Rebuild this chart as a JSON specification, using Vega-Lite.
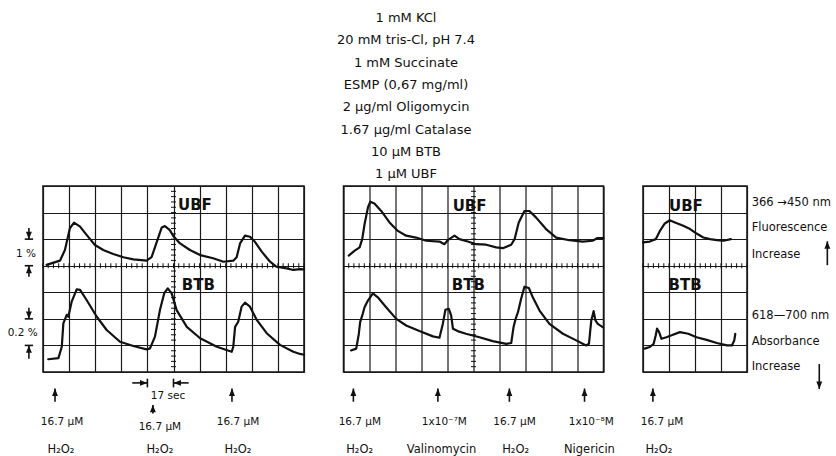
{
  "$schema": "https://vega.github.io/schema/vega-lite/v6.json",
  "background": "white",
  "padding": {"left": 6, "top": 12, "right": 0, "bottom": 0},
  "bounds": "flush",
  "spacing": 39.5,
  "title": {
    "text": ["1 mM  KCl", "20 mM tris-Cl, pH 7.4", "1 mM Succinate", "ESMP  (0,67 mg/ml)", "2 µg/ml Oligomycin", "1.67 µg/ml Catalase", "10 µM  BTB", "1 µM  UBF"],
    "anchor": "middle",
    "frame": "group",
    "dx": 363,
    "font": "DejaVu Sans",
    "fontSize": 13,
    "fontWeight": "normal",
    "lineHeight": 22.3,
    "offset": 4,
    "color": "#111"
  },
  "datasets": {
    "traces": [
      {"p":1,"s":"UBF","t":0.14,"v":4.03},{"p":1,"s":"UBF","t":0.65,"v":4.19},{"p":1,"s":"UBF","t":0.84,"v":4.59},{"p":1,"s":"UBF","t":1.03,"v":5.41},{"p":1,"s":"UBF","t":1.19,"v":5.62},{"p":1,"s":"UBF","t":1.42,"v":5.47},{"p":1,"s":"UBF","t":1.67,"v":5.16},{"p":1,"s":"UBF","t":1.99,"v":4.78},{"p":1,"s":"UBF","t":2.31,"v":4.59},{"p":1,"s":"UBF","t":2.69,"v":4.44},{"p":1,"s":"UBF","t":3.08,"v":4.32},{"p":1,"s":"UBF","t":3.46,"v":4.24},{"p":1,"s":"UBF","t":3.97,"v":4.19},{"p":1,"s":"UBF","t":4.16,"v":4.32},{"p":1,"s":"UBF","t":4.36,"v":4.9},{"p":1,"s":"UBF","t":4.55,"v":5.44},{"p":1,"s":"UBF","t":4.67,"v":5.49},{"p":1,"s":"UBF","t":4.86,"v":5.34},{"p":1,"s":"UBF","t":4.99,"v":5.12},{"p":1,"s":"UBF","t":5.25,"v":4.84},{"p":1,"s":"UBF","t":5.63,"v":4.59},{"p":1,"s":"UBF","t":6.02,"v":4.4},{"p":1,"s":"UBF","t":6.52,"v":4.28},{"p":1,"s":"UBF","t":6.91,"v":4.15},{"p":1,"s":"UBF","t":7.29,"v":4.19},{"p":1,"s":"UBF","t":7.42,"v":4.32},{"p":1,"s":"UBF","t":7.55,"v":4.84},{"p":1,"s":"UBF","t":7.74,"v":5.13},{"p":1,"s":"UBF","t":7.93,"v":5.09},{"p":1,"s":"UBF","t":8.12,"v":4.9},{"p":1,"s":"UBF","t":8.38,"v":4.53},{"p":1,"s":"UBF","t":8.7,"v":4.15},{"p":1,"s":"UBF","t":8.95,"v":3.96},{"p":1,"s":"UBF","t":9.34,"v":3.9},{"p":1,"s":"UBF","t":9.59,"v":3.84},{"p":1,"s":"UBF","t":9.85,"v":3.87},{"p":1,"s":"UBF","t":10,"v":3.86},
      {"p":1,"s":"BTB","t":0.2,"v":0.48},{"p":1,"s":"BTB","t":0.59,"v":0.52},{"p":1,"s":"BTB","t":0.72,"v":0.95},{"p":1,"s":"BTB","t":0.78,"v":1.83},{"p":1,"s":"BTB","t":0.91,"v":2.15},{"p":1,"s":"BTB","t":0.97,"v":2.08},{"p":1,"s":"BTB","t":1.1,"v":2.65},{"p":1,"s":"BTB","t":1.29,"v":3.11},{"p":1,"s":"BTB","t":1.42,"v":3.09},{"p":1,"s":"BTB","t":1.67,"v":2.71},{"p":1,"s":"BTB","t":2.06,"v":2.08},{"p":1,"s":"BTB","t":2.44,"v":1.58},{"p":1,"s":"BTB","t":2.95,"v":1.14},{"p":1,"s":"BTB","t":3.46,"v":0.98},{"p":1,"s":"BTB","t":3.97,"v":0.85},{"p":1,"s":"BTB","t":4.1,"v":0.89},{"p":1,"s":"BTB","t":4.29,"v":1.33},{"p":1,"s":"BTB","t":4.48,"v":2.33},{"p":1,"s":"BTB","t":4.65,"v":2.98},{"p":1,"s":"BTB","t":4.78,"v":3.15},{"p":1,"s":"BTB","t":4.93,"v":2.96},{"p":1,"s":"BTB","t":5.12,"v":2.33},{"p":1,"s":"BTB","t":5.51,"v":1.7},{"p":1,"s":"BTB","t":6.02,"v":1.27},{"p":1,"s":"BTB","t":6.66,"v":0.95},{"p":1,"s":"BTB","t":7.23,"v":0.76},{"p":1,"s":"BTB","t":7.29,"v":0.95},{"p":1,"s":"BTB","t":7.36,"v":1.7},{"p":1,"s":"BTB","t":7.48,"v":1.89},{"p":1,"s":"BTB","t":7.61,"v":2.46},{"p":1,"s":"BTB","t":7.74,"v":2.61},{"p":1,"s":"BTB","t":7.93,"v":2.46},{"p":1,"s":"BTB","t":8.19,"v":1.96},{"p":1,"s":"BTB","t":8.57,"v":1.46},{"p":1,"s":"BTB","t":9.08,"v":1.02},{"p":1,"s":"BTB","t":9.59,"v":0.76},{"p":1,"s":"BTB","t":9.85,"v":0.68},{"p":1,"s":"BTB","t":10,"v":0.65},
      {"p":2,"s":"UBF","t":0.2,"v":4.38},{"p":2,"s":"UBF","t":0.42,"v":4.56},{"p":2,"s":"UBF","t":0.62,"v":4.69},{"p":2,"s":"UBF","t":0.72,"v":5.0},{"p":2,"s":"UBF","t":0.81,"v":5.56},{"p":2,"s":"UBF","t":0.94,"v":6.19},{"p":2,"s":"UBF","t":1.03,"v":6.41},{"p":2,"s":"UBF","t":1.19,"v":6.34},{"p":2,"s":"UBF","t":1.45,"v":6.06},{"p":2,"s":"UBF","t":1.77,"v":5.63},{"p":2,"s":"UBF","t":2.09,"v":5.31},{"p":2,"s":"UBF","t":2.41,"v":5.13},{"p":2,"s":"UBF","t":2.79,"v":5.06},{"p":2,"s":"UBF","t":3.18,"v":4.94},{"p":2,"s":"UBF","t":3.69,"v":4.91},{"p":2,"s":"UBF","t":3.88,"v":4.81},{"p":2,"s":"UBF","t":4.01,"v":4.96},{"p":2,"s":"UBF","t":4.27,"v":5.13},{"p":2,"s":"UBF","t":4.46,"v":5.0},{"p":2,"s":"UBF","t":4.78,"v":4.91},{"p":2,"s":"UBF","t":5.1,"v":4.81},{"p":2,"s":"UBF","t":5.49,"v":4.79},{"p":2,"s":"UBF","t":5.87,"v":4.69},{"p":2,"s":"UBF","t":6.13,"v":4.66},{"p":2,"s":"UBF","t":6.45,"v":4.79},{"p":2,"s":"UBF","t":6.58,"v":5.0},{"p":2,"s":"UBF","t":6.74,"v":5.63},{"p":2,"s":"UBF","t":6.96,"v":6.06},{"p":2,"s":"UBF","t":7.15,"v":6.06},{"p":2,"s":"UBF","t":7.41,"v":5.81},{"p":2,"s":"UBF","t":7.79,"v":5.38},{"p":2,"s":"UBF","t":8.18,"v":5.06},{"p":2,"s":"UBF","t":8.69,"v":4.96},{"p":2,"s":"UBF","t":9.2,"v":4.91},{"p":2,"s":"UBF","t":9.58,"v":4.94},{"p":2,"s":"UBF","t":9.77,"v":5.04},{"p":2,"s":"UBF","t":10,"v":5.04},
      {"p":2,"s":"BTB","t":0.29,"v":0.81},{"p":2,"s":"BTB","t":0.49,"v":0.88},{"p":2,"s":"BTB","t":0.59,"v":1.44},{"p":2,"s":"BTB","t":0.64,"v":1.88},{"p":2,"s":"BTB","t":0.74,"v":2.19},{"p":2,"s":"BTB","t":0.81,"v":2.44},{"p":2,"s":"BTB","t":0.94,"v":2.69},{"p":2,"s":"BTB","t":1.13,"v":2.96},{"p":2,"s":"BTB","t":1.32,"v":2.81},{"p":2,"s":"BTB","t":1.64,"v":2.44},{"p":2,"s":"BTB","t":2.03,"v":2.0},{"p":2,"s":"BTB","t":2.41,"v":1.75},{"p":2,"s":"BTB","t":2.92,"v":1.54},{"p":2,"s":"BTB","t":3.44,"v":1.34},{"p":2,"s":"BTB","t":3.69,"v":1.29},{"p":2,"s":"BTB","t":3.82,"v":1.81},{"p":2,"s":"BTB","t":3.92,"v":2.34},{"p":2,"s":"BTB","t":4.05,"v":2.38},{"p":2,"s":"BTB","t":4.14,"v":2.13},{"p":2,"s":"BTB","t":4.21,"v":1.63},{"p":2,"s":"BTB","t":4.39,"v":1.54},{"p":2,"s":"BTB","t":4.71,"v":1.44},{"p":2,"s":"BTB","t":5.23,"v":1.31},{"p":2,"s":"BTB","t":5.74,"v":1.16},{"p":2,"s":"BTB","t":6.26,"v":1.06},{"p":2,"s":"BTB","t":6.45,"v":1.09},{"p":2,"s":"BTB","t":6.54,"v":1.69},{"p":2,"s":"BTB","t":6.62,"v":2.0},{"p":2,"s":"BTB","t":6.71,"v":2.25},{"p":2,"s":"BTB","t":6.83,"v":2.75},{"p":2,"s":"BTB","t":6.96,"v":3.21},{"p":2,"s":"BTB","t":7.13,"v":3.16},{"p":2,"s":"BTB","t":7.28,"v":2.81},{"p":2,"s":"BTB","t":7.54,"v":2.31},{"p":2,"s":"BTB","t":7.92,"v":1.81},{"p":2,"s":"BTB","t":8.44,"v":1.44},{"p":2,"s":"BTB","t":8.95,"v":1.19},{"p":2,"s":"BTB","t":9.33,"v":1.0},{"p":2,"s":"BTB","t":9.44,"v":1.06},{"p":2,"s":"BTB","t":9.53,"v":1.94},{"p":2,"s":"BTB","t":9.62,"v":2.29},{"p":2,"s":"BTB","t":9.69,"v":1.94},{"p":2,"s":"BTB","t":9.78,"v":1.81},{"p":2,"s":"BTB","t":9.97,"v":1.69},
      {"p":3,"s":"UBF","t":0.0,"v":4.88},{"p":3,"s":"UBF","t":0.26,"v":4.91},{"p":3,"s":"UBF","t":0.49,"v":5.0},{"p":3,"s":"UBF","t":0.65,"v":5.31},{"p":3,"s":"UBF","t":0.84,"v":5.59},{"p":3,"s":"UBF","t":1.03,"v":5.71},{"p":3,"s":"UBF","t":1.23,"v":5.63},{"p":3,"s":"UBF","t":1.55,"v":5.5},{"p":3,"s":"UBF","t":1.81,"v":5.38},{"p":3,"s":"UBF","t":2.06,"v":5.21},{"p":3,"s":"UBF","t":2.32,"v":5.06},{"p":3,"s":"UBF","t":2.58,"v":5.0},{"p":3,"s":"UBF","t":2.84,"v":4.96},{"p":3,"s":"UBF","t":3.1,"v":4.94},{"p":3,"s":"UBF","t":3.38,"v":5.0},
      {"p":3,"s":"BTB","t":0.06,"v":0.88},{"p":3,"s":"BTB","t":0.26,"v":0.94},{"p":3,"s":"BTB","t":0.41,"v":1.06},{"p":3,"s":"BTB","t":0.49,"v":1.38},{"p":3,"s":"BTB","t":0.54,"v":1.63},{"p":3,"s":"BTB","t":0.62,"v":1.5},{"p":3,"s":"BTB","t":0.71,"v":1.25},{"p":3,"s":"BTB","t":0.9,"v":1.31},{"p":3,"s":"BTB","t":1.1,"v":1.38},{"p":3,"s":"BTB","t":1.42,"v":1.5},{"p":3,"s":"BTB","t":1.74,"v":1.44},{"p":3,"s":"BTB","t":2.06,"v":1.31},{"p":3,"s":"BTB","t":2.45,"v":1.21},{"p":3,"s":"BTB","t":2.84,"v":1.09},{"p":3,"s":"BTB","t":3.23,"v":1.0},{"p":3,"s":"BTB","t":3.42,"v":1.0},{"p":3,"s":"BTB","t":3.51,"v":1.19},{"p":3,"s":"BTB","t":3.55,"v":1.44}
    ],
    "hticks": [
      {"t":0,"v":4},{"t":0.2,"v":4},{"t":0.4,"v":4},{"t":0.6,"v":4},{"t":0.8,"v":4},{"t":1,"v":4},{"t":1.2,"v":4},{"t":1.4,"v":4},{"t":1.6,"v":4},{"t":1.8,"v":4},{"t":2,"v":4},{"t":2.2,"v":4},{"t":2.4,"v":4},{"t":2.6,"v":4},{"t":2.8,"v":4},{"t":3,"v":4},{"t":3.2,"v":4},{"t":3.4,"v":4},{"t":3.6,"v":4},{"t":3.8,"v":4},{"t":4,"v":4},{"t":4.2,"v":4},{"t":4.4,"v":4},{"t":4.6,"v":4},{"t":4.8,"v":4},{"t":5,"v":4},{"t":5.2,"v":4},{"t":5.4,"v":4},{"t":5.6,"v":4},{"t":5.8,"v":4},{"t":6,"v":4},{"t":6.2,"v":4},{"t":6.4,"v":4},{"t":6.6,"v":4},{"t":6.8,"v":4},{"t":7,"v":4},{"t":7.2,"v":4},{"t":7.4,"v":4},{"t":7.6,"v":4},{"t":7.8,"v":4},{"t":8,"v":4},{"t":8.2,"v":4},{"t":8.4,"v":4},{"t":8.6,"v":4},{"t":8.8,"v":4},{"t":9,"v":4},{"t":9.2,"v":4},{"t":9.4,"v":4},{"t":9.6,"v":4},{"t":9.8,"v":4},{"t":10,"v":4}
    ],
    "vticks": [
      {"t":5,"v":0.2},{"t":5,"v":0.4},{"t":5,"v":0.6},{"t":5,"v":0.8},{"t":5,"v":1},{"t":5,"v":1.2},{"t":5,"v":1.4},{"t":5,"v":1.6},{"t":5,"v":1.8},{"t":5,"v":2},{"t":5,"v":2.2},{"t":5,"v":2.4},{"t":5,"v":2.6},{"t":5,"v":2.8},{"t":5,"v":3},{"t":5,"v":3.2},{"t":5,"v":3.4},{"t":5,"v":3.6},{"t":5,"v":3.8},{"t":5,"v":4.2},{"t":5,"v":4.4},{"t":5,"v":4.6},{"t":5,"v":4.8},{"t":5,"v":5},{"t":5,"v":5.2},{"t":5,"v":5.4},{"t":5,"v":5.6},{"t":5,"v":5.8},{"t":5,"v":6},{"t":5,"v":6.2},{"t":5,"v":6.4},{"t":5,"v":6.6},{"t":5,"v":6.8}
    ],
    "tags": [
      {"p":1,"t":5.82,"v":6.29,"text":"UBF"},{"p":1,"t":5.95,"v":3.27,"text":"BTB"},
      {"p":2,"t":4.85,"v":6.25,"text":"UBF"},{"p":2,"t":4.8,"v":3.26,"text":"BTB"},
      {"p":3,"t":1.65,"v":6.25,"text":"UBF"},{"p":3,"t":1.62,"v":3.26,"text":"BTB"}
    ],
    "segs": [
      {"p":1,"t":-0.7,"t2":-0.38,"v":5,"v2":5},{"p":1,"t":-0.7,"t2":-0.38,"v":4,"v2":4},{"p":1,"t":-0.7,"t2":-0.38,"v":2,"v2":2},{"p":1,"t":-0.7,"t2":-0.38,"v":1,"v2":1},
      {"p":1,"t":-0.54,"t2":-0.54,"v":5,"v2":5.42},{"p":1,"t":-0.54,"t2":-0.54,"v":4,"v2":3.58},{"p":1,"t":-0.54,"t2":-0.54,"v":2,"v2":2.42},{"p":1,"t":-0.54,"t2":-0.54,"v":1,"v2":0.5},
      {"p":1,"t":4,"t2":4,"v":-0.25,"v2":-0.58},{"p":1,"t":5,"t2":5,"v":-0.25,"v2":-0.58},{"p":1,"t":3.42,"t2":4,"v":-0.41,"v2":-0.41},{"p":1,"t":5,"t2":5.58,"v":-0.41,"v2":-0.41},
      {"p":1,"t":0.46,"t2":0.46,"v":-0.62,"v2":-1.12},{"p":1,"t":4.21,"t2":4.21,"v":-1.24,"v2":-1.56},{"p":1,"t":7.24,"t2":7.24,"v":-0.62,"v2":-1.12},
      {"p":2,"t":0.38,"t2":0.38,"v":-0.62,"v2":-1.12},{"p":2,"t":3.63,"t2":3.63,"v":-0.62,"v2":-1.12},{"p":2,"t":6.38,"t2":6.38,"v":-0.62,"v2":-1.12},{"p":2,"t":9.27,"t2":9.27,"v":-0.62,"v2":-1.12},
      {"p":3,"t":0.38,"t2":0.38,"v":-0.62,"v2":-1.12},{"p":3,"t":7.09,"t2":7.09,"v":4.92,"v2":4.02},{"p":3,"t":6.78,"t2":6.78,"v":-0.64,"v2":0.3}
    ],
    "heads": [
      {"p":1,"t":-0.54,"v":5,"dir":"down"},{"p":1,"t":-0.54,"v":4,"dir":"up"},{"p":1,"t":-0.54,"v":2,"dir":"down"},{"p":1,"t":-0.54,"v":1,"dir":"up"},
      {"p":1,"t":4,"v":-0.41,"dir":"right"},{"p":1,"t":5,"v":-0.41,"dir":"left"},
      {"p":1,"t":0.46,"v":-0.62,"dir":"up"},{"p":1,"t":4.21,"v":-1.24,"dir":"up"},{"p":1,"t":7.24,"v":-0.62,"dir":"up"},
      {"p":2,"t":0.38,"v":-0.62,"dir":"up"},{"p":2,"t":3.63,"v":-0.62,"dir":"up"},{"p":2,"t":6.38,"v":-0.62,"dir":"up"},{"p":2,"t":9.27,"v":-0.62,"dir":"up"},
      {"p":3,"t":0.38,"v":-0.62,"dir":"up"},{"p":3,"t":7.09,"v":4.92,"dir":"up"},{"p":3,"t":6.78,"v":-0.64,"dir":"down"}
    ],
    "doses": [
      {"p":1,"t":0.73,"v":-1.88,"text":"16.7 µM"},{"p":1,"t":4.48,"v":-2.07,"text":"16.7 µM"},{"p":1,"t":7.47,"v":-1.88,"text":"16.7 µM"},{"p":1,"t":4.79,"v":-0.9,"text":"17 sec"},
      {"p":2,"t":0.63,"v":-1.88,"text":"16.7 µM"},{"p":2,"t":3.88,"v":-1.88,"text":"1x10⁻⁷M"},{"p":2,"t":6.58,"v":-1.88,"text":"16.7 µM"},{"p":2,"t":9.53,"v":-1.88,"text":"1x10⁻⁸M"},
      {"p":3,"t":0.73,"v":-1.88,"text":"16.7 µM"}
    ],
    "agents": [
      {"p":1,"t":0.69,"v":-2.94,"text":"H₂O₂"},{"p":1,"t":4.48,"v":-2.94,"text":"H₂O₂"},{"p":1,"t":7.47,"v":-2.94,"text":"H₂O₂"},
      {"p":2,"t":0.62,"v":-2.94,"text":"H₂O₂"},{"p":2,"t":3.77,"v":-2.94,"text":"Valinomycin"},{"p":2,"t":6.62,"v":-2.94,"text":"H₂O₂"},{"p":2,"t":9.46,"v":-2.94,"text":"Nigericin"},
      {"p":3,"t":0.61,"v":-2.94,"text":"H₂O₂"}
    ],
    "pct": [
      {"t":-0.65,"v":4.45,"text":"1 %"},{"t":-0.78,"v":1.47,"text":"0.2 %"}
    ],
    "side": [
      {"t":4.18,"v":6.36,"text":"366 →450 nm"},{"t":4.18,"v":5.42,"text":"Fluorescence"},{"t":4.18,"v":4.39,"text":"Increase"},
      {"t":4.18,"v":2.12,"text":"618—700 nm"},{"t":4.18,"v":1.14,"text":"Absorbance"},{"t":4.18,"v":0.19,"text":"Increase"}
    ]
  },
  "hconcat": [
    {
      "width": 261,
      "height": 186,
      "encoding": {
        "x": {"field": "t", "type": "quantitative", "scale": {"domain": [0, 10], "nice": false, "zero": false}, "axis": {"values": [0,1,2,3,4,5,6,7,8,9,10], "grid": true, "domain": false, "ticks": false, "labels": false, "title": null}},
        "y": {"field": "v", "type": "quantitative", "scale": {"domain": [0, 7], "nice": false, "zero": false}, "axis": {"values": [0,1,2,3,4,5,6,7], "grid": true, "domain": false, "ticks": false, "labels": false, "title": null}}
      },
      "layer": [
        {"data": {"name": "hticks"}, "mark": {"type": "tick", "orient": "vertical", "size": 5, "thickness": 1, "color": "#111", "opacity": 1}},
        {"data": {"name": "vticks"}, "mark": {"type": "tick", "orient": "horizontal", "size": 5, "thickness": 1, "color": "#111", "opacity": 1}},
        {"data": {"name": "traces"}, "transform": [{"filter": "datum.p == 1"}], "mark": {"type": "line", "color": "#111", "strokeWidth": 2.2, "strokeJoin": "round", "strokeCap": "round"}, "encoding": {"detail": {"field": "s", "type": "nominal"}}},
        {"data": {"name": "tags"}, "transform": [{"filter": "datum.p == 1"}], "mark": {"type": "text", "font": "DejaVu Sans", "fontSize": 15, "fontWeight": "bold", "align": "center", "baseline": "middle", "color": "#111"}, "encoding": {"text": {"field": "text"}}},
        {"data": {"name": "segs"}, "transform": [{"filter": "datum.p == 1"}], "mark": {"type": "rule", "color": "#111", "strokeWidth": 1.6}, "encoding": {"x2": {"field": "t2"}, "y2": {"field": "v2"}}},
        {"data": {"name": "heads"}, "transform": [{"filter": "datum.p == 1"}], "mark": {"type": "point", "filled": true, "size": 220, "color": "#111", "opacity": 1}, "encoding": {"shape": {"field": "dir", "type": "nominal", "scale": {"domain": ["up", "down", "left", "right"], "range": ["M0,0L-0.4,1L0.4,1Z", "M0,0L-0.4,-1L0.4,-1Z", "M0,0L1,-0.4L1,0.4Z", "M0,0L-1,-0.4L-1,0.4Z"]}, "legend": null}}},
        {"data": {"name": "doses"}, "transform": [{"filter": "datum.p == 1"}], "mark": {"type": "text", "font": "DejaVu Sans", "fontSize": 10.5, "align": "center", "baseline": "middle", "color": "#111"}, "encoding": {"text": {"field": "text"}}},
        {"data": {"name": "agents"}, "transform": [{"filter": "datum.p == 1"}], "mark": {"type": "text", "font": "DejaVu Sans", "fontSize": 11.5, "align": "center", "baseline": "middle", "color": "#111"}, "encoding": {"text": {"field": "text"}}},
        {"data": {"name": "pct"}, "mark": {"type": "text", "font": "DejaVu Sans", "fontSize": 10.5, "align": "center", "baseline": "middle", "color": "#111"}, "encoding": {"text": {"field": "text"}}}
      ]
    },
    {
      "width": 260,
      "height": 186,
      "encoding": {
        "x": {"field": "t", "type": "quantitative", "scale": {"domain": [0, 10], "nice": false, "zero": false}, "axis": {"values": [0,1,2,3,4,5,6,7,8,9,10], "grid": true, "domain": false, "ticks": false, "labels": false, "title": null}},
        "y": {"field": "v", "type": "quantitative", "scale": {"domain": [0, 7], "nice": false, "zero": false}, "axis": {"values": [0,1,2,3,4,5,6,7], "grid": true, "domain": false, "ticks": false, "labels": false, "title": null}}
      },
      "layer": [
        {"data": {"name": "hticks"}, "mark": {"type": "tick", "orient": "vertical", "size": 5, "thickness": 1, "color": "#111", "opacity": 1}},
        {"data": {"name": "vticks"}, "mark": {"type": "tick", "orient": "horizontal", "size": 5, "thickness": 1, "color": "#111", "opacity": 1}},
        {"data": {"name": "traces"}, "transform": [{"filter": "datum.p == 2"}], "mark": {"type": "line", "color": "#111", "strokeWidth": 2.2, "strokeJoin": "round", "strokeCap": "round"}, "encoding": {"detail": {"field": "s", "type": "nominal"}}},
        {"data": {"name": "tags"}, "transform": [{"filter": "datum.p == 2"}], "mark": {"type": "text", "font": "DejaVu Sans", "fontSize": 15, "fontWeight": "bold", "align": "center", "baseline": "middle", "color": "#111"}, "encoding": {"text": {"field": "text"}}},
        {"data": {"name": "segs"}, "transform": [{"filter": "datum.p == 2"}], "mark": {"type": "rule", "color": "#111", "strokeWidth": 1.6}, "encoding": {"x2": {"field": "t2"}, "y2": {"field": "v2"}}},
        {"data": {"name": "heads"}, "transform": [{"filter": "datum.p == 2"}], "mark": {"type": "point", "filled": true, "size": 220, "color": "#111", "opacity": 1}, "encoding": {"shape": {"field": "dir", "type": "nominal", "scale": {"domain": ["up", "down", "left", "right"], "range": ["M0,0L-0.4,1L0.4,1Z", "M0,0L-0.4,-1L0.4,-1Z", "M0,0L1,-0.4L1,0.4Z", "M0,0L-1,-0.4L-1,0.4Z"]}, "legend": null}}},
        {"data": {"name": "doses"}, "transform": [{"filter": "datum.p == 2"}], "mark": {"type": "text", "font": "DejaVu Sans", "fontSize": 10.5, "align": "center", "baseline": "middle", "color": "#111"}, "encoding": {"text": {"field": "text"}}},
        {"data": {"name": "agents"}, "transform": [{"filter": "datum.p == 2"}], "mark": {"type": "text", "font": "DejaVu Sans", "fontSize": 11.5, "align": "center", "baseline": "middle", "color": "#111"}, "encoding": {"text": {"field": "text"}}}
      ]
    },
    {
      "width": 104,
      "height": 186,
      "encoding": {
        "x": {"field": "t", "type": "quantitative", "scale": {"domain": [0, 4], "nice": false, "zero": false}, "axis": {"values": [0,1,2,3,4], "grid": true, "domain": false, "ticks": false, "labels": false, "title": null}},
        "y": {"field": "v", "type": "quantitative", "scale": {"domain": [0, 7], "nice": false, "zero": false}, "axis": {"values": [0,1,2,3,4,5,6,7], "grid": true, "domain": false, "ticks": false, "labels": false, "title": null}}
      },
      "layer": [
        {"data": {"name": "hticks"}, "transform": [{"filter": "datum.t <= 4"}], "mark": {"type": "tick", "orient": "vertical", "size": 5, "thickness": 1, "color": "#111", "opacity": 1}},
        {"data": {"name": "traces"}, "transform": [{"filter": "datum.p == 3"}], "mark": {"type": "line", "color": "#111", "strokeWidth": 2.2, "strokeJoin": "round", "strokeCap": "round"}, "encoding": {"detail": {"field": "s", "type": "nominal"}}},
        {"data": {"name": "tags"}, "transform": [{"filter": "datum.p == 3"}], "mark": {"type": "text", "font": "DejaVu Sans", "fontSize": 15, "fontWeight": "bold", "align": "center", "baseline": "middle", "color": "#111"}, "encoding": {"text": {"field": "text"}}},
        {"data": {"name": "segs"}, "transform": [{"filter": "datum.p == 3"}], "mark": {"type": "rule", "color": "#111", "strokeWidth": 1.6}, "encoding": {"x2": {"field": "t2"}, "y2": {"field": "v2"}}},
        {"data": {"name": "heads"}, "transform": [{"filter": "datum.p == 3"}], "mark": {"type": "point", "filled": true, "size": 220, "color": "#111", "opacity": 1}, "encoding": {"shape": {"field": "dir", "type": "nominal", "scale": {"domain": ["up", "down", "left", "right"], "range": ["M0,0L-0.4,1L0.4,1Z", "M0,0L-0.4,-1L0.4,-1Z", "M0,0L1,-0.4L1,0.4Z", "M0,0L-1,-0.4L-1,0.4Z"]}, "legend": null}}},
        {"data": {"name": "doses"}, "transform": [{"filter": "datum.p == 3"}], "mark": {"type": "text", "font": "DejaVu Sans", "fontSize": 10.5, "align": "center", "baseline": "middle", "color": "#111"}, "encoding": {"text": {"field": "text"}}},
        {"data": {"name": "agents"}, "transform": [{"filter": "datum.p == 3"}], "mark": {"type": "text", "font": "DejaVu Sans", "fontSize": 11.5, "align": "center", "baseline": "middle", "color": "#111"}, "encoding": {"text": {"field": "text"}}},
        {"data": {"name": "side"}, "mark": {"type": "text", "font": "DejaVu Sans", "fontSize": 11.5, "align": "left", "baseline": "middle", "color": "#111"}, "encoding": {"text": {"field": "text"}}}
      ]
    }
  ],
  "config": {
    "font": "DejaVu Sans",
    "axis": {"gridColor": "#1a1a1a", "gridWidth": 1.2, "gridOpacity": 1},
    "view": {"stroke": "#111", "strokeWidth": 1.5}
  }
}
